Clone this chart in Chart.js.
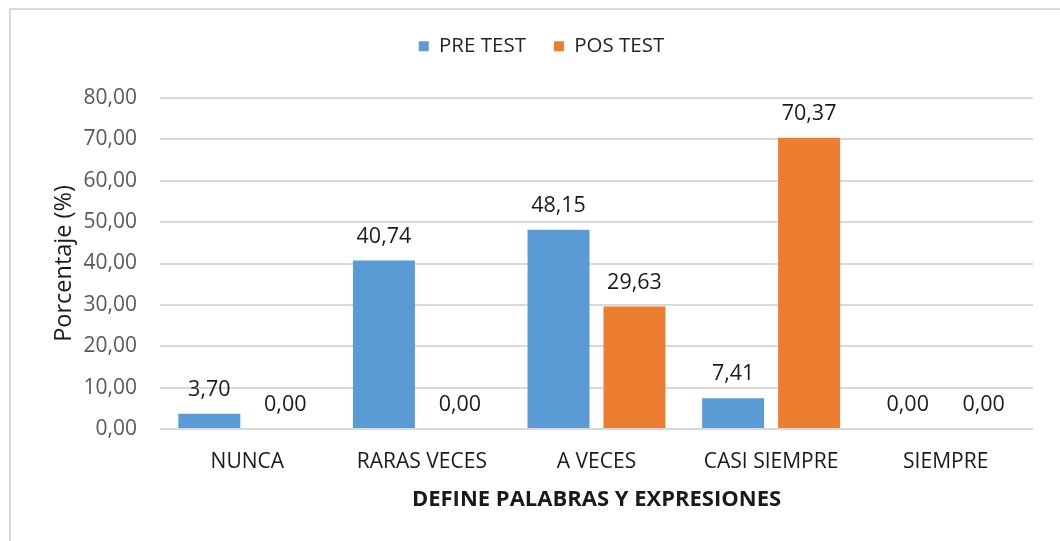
<!DOCTYPE html>
<html>
<head>
<meta charset="utf-8">
<script src="https://cdn.jsdelivr.net/npm/chart.js@4.4.1/dist/chart.umd.min.js"></script>
<style>
  html, body { margin: 0; padding: 0; background: #fff; }
  #caja { position: relative; width: 1060px; height: 541px; }
</style>
</head>
<body>
<div id="caja"><canvas id="grafico"></canvas></div>
<script>
// Datos del gráfico
const categorias = ['NUNCA', 'RARAS VECES', 'A VECES', 'CASI SIEMPRE', 'SIEMPRE'];
const preTest = [3.70, 40.74, 48.15, 7.41, 0.00];
const posTest = [0.00, 0.00, 29.63, 70.37, 0.00];
const ticksY = [0, 10, 20, 30, 40, 50, 60, 70, 80];

const fuente = "'Open Sans', 'Liberation Sans', sans-serif";

function formatoComa(v) {
    return v.toFixed(2).replace('.', ',');
}

// Borde gris alrededor del gráfico
const borde = {
    id: 'borde',
    beforeDraw(chart) {
        const c = chart.ctx;
        c.save();
        c.strokeStyle = '#d9d9d9';
        c.lineWidth = 2;
        c.strokeRect(10, 9, 1200, 700);
        c.restore();
    }
};

// Etiquetas de valor encima de cada barra
const etiquetas = {
    id: 'etiquetas',
    afterDatasetsDraw(chart) {
        const c = chart.ctx;
        c.save();
        c.font = '21.5px ' + fuente;
        c.fillStyle = '#1a1a1a';
        c.textAlign = 'center';
        c.textBaseline = 'middle';
        chart.data.datasets.forEach((ds, i) => {
            chart.getDatasetMeta(i).data.forEach((bar, j) => {
                c.fillText(formatoComa(ds.data[j]), bar.x, bar.y - 24);
            });
        });
        c.restore();
    }
};

const ctx = document.getElementById('grafico').getContext('2d');
const chart = new Chart(ctx, {
    type: 'bar',
    data: {
        labels: categorias,
        datasets: [
            { label: 'PRE TEST', data: preTest, backgroundColor: '#5b9bd5' },
            { label: 'POS TEST', data: posTest, backgroundColor: '#ed7d31' }
        ]
    },
    options: {
        responsive: true,
        maintainAspectRatio: false,
        animation: false,
        categoryPercentage: 0.87,
        barPercentage: 0.816,
        layout: { padding: { top: 8, left: 50, right: 27, bottom: 28 } },
        plugins: {
            tooltip: { enabled: false },
            legend: {
                position: 'top',
                labels: {
                    boxWidth: 10,
                    boxHeight: 10,
                    padding: 28,
                    color: '#262626',
                    font: { family: fuente, size: 20.5 }
                }
            }
        },
        scales: {
            x: {
                afterFit(axis) { axis.height = 84; },
                grid: { display: false, drawTicks: false },
                border: { display: false },
                ticks: {
                    padding: 20,
                    color: '#1a1a1a',
                    font: { family: fuente, size: 21 }
                },
                title: {
                    display: true,
                    text: 'DEFINE PALABRAS Y EXPRESIONES',
                    color: '#1a1a1a',
                    padding: { top: 0, bottom: 0 },
                    font: { family: fuente, size: 22, weight: 'bold' }
                }
            },
            y: {
                min: 0,
                max: 80,
                afterFit(axis) { axis.width = 110; },
                afterBuildTicks(axis) {
                    axis.ticks = ticksY.map(v => ({ value: v }));
                },
                grid: { color: '#d9d9d9', lineWidth: 2, drawTicks: false },
                border: { display: false },
                ticks: {
                    padding: 23,
                    color: '#595959',
                    font: { family: fuente, size: 21 },
                    callback: v => formatoComa(v)
                },
                title: {
                    display: true,
                    text: 'Porcentaje (%)',
                    color: '#1a1a1a',
                    padding: { top: 0, bottom: 0 },
                    font: { family: fuente, size: 23.5 }
                }
            }
        }
    },
    plugins: [borde, etiquetas]
});

// Fijar alto de la leyenda para que el área del gráfico empiece en y=98
chart.legend.fit = (function (fitOriginal) {
    return function () {
        fitOriginal.call(this);
        this.height = 90;
    };
})(chart.legend.fit);
chart.update();
</script>
</body>
</html>
